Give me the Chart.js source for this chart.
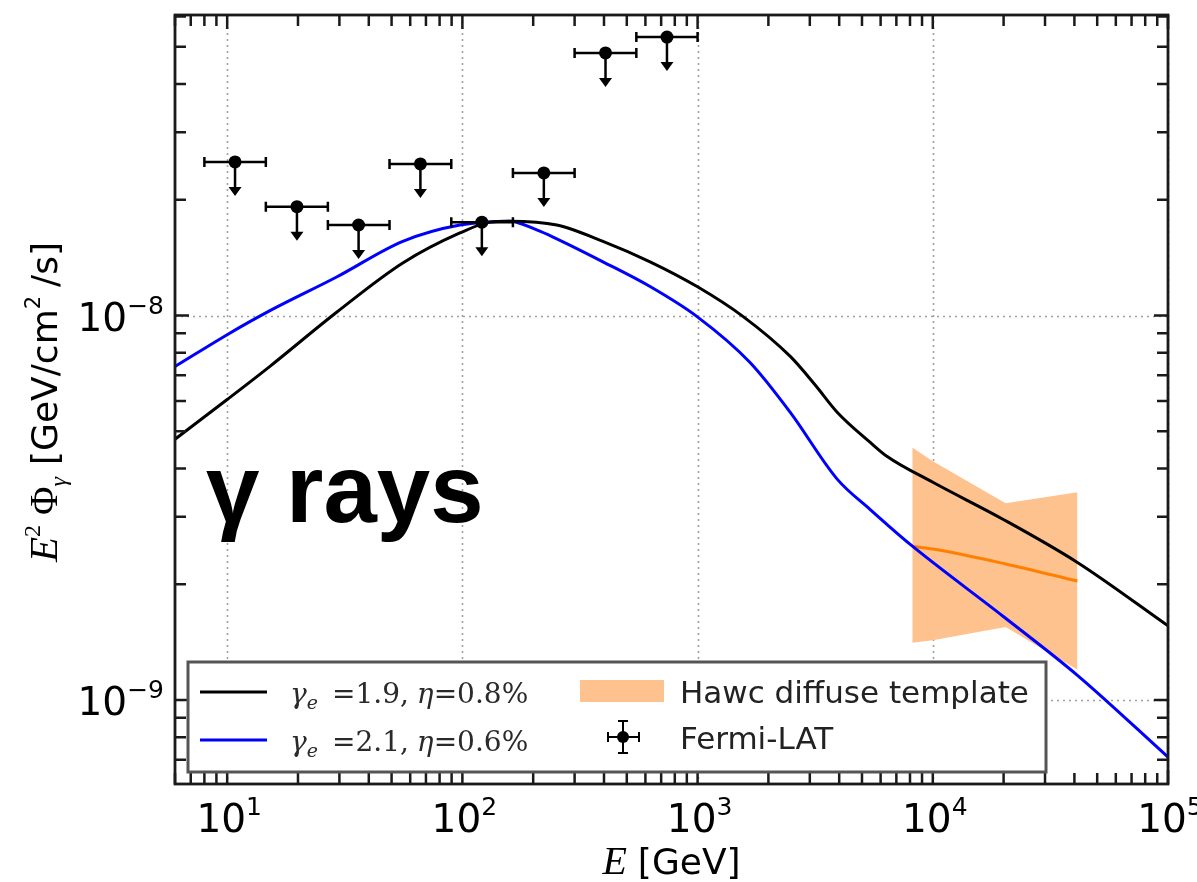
<!DOCTYPE html>
<html><head><meta charset="utf-8">
<script src="https://cdn.jsdelivr.net/npm/chart.js@4.4.1/dist/chart.umd.min.js"></script>
<style>html,body{margin:0;padding:0;background:#fff;overflow:hidden}canvas{display:block}</style>
</head><body>
<canvas id="chart" width="1197" height="882" style="width:1197px;height:882px"></canvas>
<script>
// ---- data ----
const blackEnergy = [6, 10, 15.2, 29.2, 55.8, 97.6, 131, 159, 252, 396, 628, 995, 1563, 2478, 3162, 3930, 5420, 6400, 10050, 19950, 41200, 100000];
const blackFlux   = [4.77e-9, 6.05e-9, 7.38e-9, 1.02e-8, 1.37e-8, 1.64e-8, 1.75e-8, 1.76e-8, 1.72e-8, 1.56e-8, 1.38e-8, 1.19e-8, 9.94e-9, 7.83e-9, 6.6e-9, 5.60e-9, 4.68e-9, 4.30e-9, 3.68e-9, 2.95e-9, 2.28e-9, 1.56e-9];

const blueEnergy = [6, 10, 15.2, 29.2, 55.8, 97.6, 159, 207, 243, 396, 628, 995, 1671, 2478, 3930, 5420, 8020, 19950, 41200, 100000];
const blueFlux   = [7.37e-9, 8.92e-9, 1.03e-8, 1.26e-8, 1.56e-8, 1.72e-8, 1.76e-8, 1.67e-8, 1.60e-8, 1.38e-8, 1.19e-8, 9.94e-9, 7.55e-9, 5.60e-9, 3.75e-9, 3.13e-9, 2.54e-9, 1.65e-9, 1.16e-9, 7.11e-10];

const hawcEnergy = [8180, 10000, 20400, 41200];
const hawcUpper  = [4.54e-9, 4.18e-9, 3.25e-9, 3.47e-9];
const hawcLower  = [1.41e-9, 1.43e-9, 1.55e-9, 1.20e-9];
const hawcCenter = [2.51e-9, 2.47e-9, 2.26e-9, 2.04e-9];

const fermiEnergy = [10.8, 19.8, 36.2, 66.3, 121, 222, 406, 741];
const fermiLow    = [8, 14.6, 26.8, 49, 89.7, 164, 300, 549];
const fermiHigh   = [14.6, 26.8, 49, 89.7, 164, 300, 549, 1000];
const fermiFlux   = [2.51e-8, 1.92e-8, 1.72e-8, 2.48e-8, 1.75e-8, 2.35e-8, 4.82e-8, 5.30e-8];

const xTickValues = [10, 100, 1000, 10000, 100000];
const xTickExp    = ['1', '2', '3', '4', '5'];
const yTickValues = [1e-9, 1e-8];
const yTickExp    = ['\u22129', '\u22128'];

const legendLabels = ['\u03B3e =1.9, \u03B7=0.8%', '\u03B3e =2.1, \u03B7=0.6%', 'Hawc diffuse template', 'Fermi-LAT'];

const pairs = (xs, ys) => xs.map((x, i) => ({x, y: ys[i]}));

// ---- drawing helpers ----
function runsWidth(ctx, runs) {
  let w = 0;
  for (const r of runs) { ctx.font = r.font; w += ctx.measureText(r.t).width + (r.gap || 0); }
  return w;
}
function drawRuns(ctx, runs, x, y) {
  let cx = x;
  for (const r of runs) {
    ctx.font = r.font; ctx.fillStyle = r.color || '#000';
    ctx.fillText(r.t, cx, y + (r.dy || 0));
    cx += ctx.measureText(r.t).width + (r.gap || 0);
  }
}

const decor = {
  id: 'decor',
  beforeDatasetsDraw(chart) {
    const {ctx, chartArea: a, scales: {x, y}} = chart;
    ctx.save();
    ctx.strokeStyle = '#a0a0a0'; ctx.lineWidth = 1.6; ctx.setLineDash([2, 4]);
    for (const v of xTickValues) {
      const px = Math.round(x.getPixelForValue(v)) + 0.5;
      ctx.beginPath(); ctx.moveTo(px, a.top); ctx.lineTo(px, a.bottom); ctx.stroke();
    }
    for (const v of yTickValues) {
      const py = Math.round(y.getPixelForValue(v)) + 0.5;
      ctx.beginPath(); ctx.moveTo(a.left, py); ctx.lineTo(a.right, py); ctx.stroke();
    }
    ctx.restore();
  },
  afterDatasetsDraw(chart) {
    const {ctx, chartArea: a, scales: {x, y}} = chart;
    ctx.save();
    // Fermi-LAT error bars and upper-limit arrows
    ctx.strokeStyle = '#000'; ctx.fillStyle = '#000'; ctx.lineWidth = 2.5;
    for (let i = 0; i < fermiEnergy.length; i++) {
      const px = x.getPixelForValue(fermiEnergy[i]);
      const py = y.getPixelForValue(fermiFlux[i]);
      const xl = x.getPixelForValue(fermiLow[i]);
      const xh = x.getPixelForValue(fermiHigh[i]);
      ctx.beginPath();
      ctx.moveTo(xl, py); ctx.lineTo(xh, py);
      ctx.moveTo(xl, py - 5); ctx.lineTo(xl, py + 5);
      ctx.moveTo(xh, py - 5); ctx.lineTo(xh, py + 5);
      ctx.moveTo(px, py); ctx.lineTo(px, py + 27);
      ctx.stroke();
      ctx.beginPath();
      ctx.moveTo(px - 6.5, py + 25); ctx.lineTo(px + 6.5, py + 25); ctx.lineTo(px, py + 34); ctx.closePath(); ctx.fill();
    }
    // frame
    ctx.lineWidth = 2.8; ctx.strokeStyle = '#1a1a1a';
    ctx.strokeRect(a.left, a.top, a.right - a.left, a.bottom - a.top);
    // ticks (inward, all four sides)
    ctx.lineWidth = 2.5;
    const majorLen = 14, minorLen = 11;
    for (let d = 0; d <= 5; d++) {
      for (let m = 1; m <= 9; m++) {
        const v = m * Math.pow(10, d);
        if (v < x.min || v > x.max) continue;
        const px = x.getPixelForValue(v);
        const L = m === 1 ? majorLen : minorLen;
        ctx.beginPath();
        ctx.moveTo(px, a.bottom); ctx.lineTo(px, a.bottom - L);
        ctx.moveTo(px, a.top); ctx.lineTo(px, a.top + L);
        ctx.stroke();
      }
    }
    for (let d = -10; d <= -8; d++) {
      for (let m = 1; m <= 9; m++) {
        const v = m * Math.pow(10, d);
        if (v < y.min || v > y.max) continue;
        const py = y.getPixelForValue(v);
        const L = m === 1 ? majorLen : minorLen;
        ctx.beginPath();
        ctx.moveTo(a.left, py); ctx.lineTo(a.left + L, py);
        ctx.moveTo(a.right, py); ctx.lineTo(a.right - L, py);
        ctx.stroke();
      }
    }
    // tick labels
    ctx.textBaseline = 'alphabetic'; ctx.textAlign = 'left';
    const mainF = '39px "DejaVu Sans"', supF = '25px "DejaVu Sans"';
    xTickValues.forEach((v, i) => {
      const runs = [{t: '10', font: mainF}, {t: xTickExp[i], font: supF, dy: -17}];
      const w = runsWidth(ctx, runs);
      drawRuns(ctx, runs, x.getPixelForValue(v) - w / 2 + 2, a.bottom + 48);
    });
    yTickValues.forEach((v, i) => {
      const runs = [{t: '10', font: mainF}, {t: yTickExp[i], font: supF, dy: -17}];
      const w = runsWidth(ctx, runs);
      drawRuns(ctx, runs, a.left - 11 - w, y.getPixelForValue(v) + 15);
    });
    // axis titles
    const xr = [{t: 'E', font: 'italic 40px "Liberation Serif"', gap: 11}, {t: '[GeV]', font: '36px "DejaVu Sans"'}];
    const xw = runsWidth(ctx, xr);
    drawRuns(ctx, xr, (a.left + a.right) / 2 - xw / 2, 874);
    ctx.save();
    ctx.translate(57, 402); ctx.rotate(-Math.PI / 2);
    const yr = [
      {t: 'E', font: 'italic 41px "Liberation Serif"'},
      {t: '2', font: '24px "Liberation Serif"', dy: -17, gap: 10},
      {t: '\u03A6', font: '39px "Liberation Serif"'},
      {t: '\u03B3', font: 'italic 24px "Liberation Serif"', dy: 9, gap: 12},
      {t: '[GeV/cm', font: '36px "DejaVu Sans"'},
      {t: '2', font: '21px "DejaVu Sans"', dy: -17, gap: 9},
      {t: '/s]', font: '36px "DejaVu Sans"'}
    ];
    const yw = runsWidth(ctx, yr);
    drawRuns(ctx, yr, -yw / 2, 0);
    ctx.restore();
    // annotation
    ctx.font = 'bold 96px "Liberation Sans"'; ctx.fillStyle = '#000';
    ctx.fillText('\u03B3 rays', 206, 522);
    // legend
    const lx0 = 188, ly0 = 662, lx1 = 1046, ly1 = 772;
    ctx.fillStyle = '#fff'; ctx.fillRect(lx0, ly0, lx1 - lx0, ly1 - ly0);
    ctx.lineWidth = 3; ctx.strokeStyle = '#555';
    ctx.strokeRect(lx0, ly0, lx1 - lx0, ly1 - ly0);
    const rows = [692, 740];
    ctx.lineWidth = 3;
    ctx.strokeStyle = '#000'; ctx.beginPath(); ctx.moveTo(200, rows[0]); ctx.lineTo(267, rows[0]); ctx.stroke();
    ctx.strokeStyle = '#0000ff'; ctx.beginPath(); ctx.moveTo(200, rows[1]); ctx.lineTo(267, rows[1]); ctx.stroke();
    const serif = '"DejaVu Serif"';
    [['1.9', '0.8%'], ['2.1', '0.6%']].forEach((p, i) => {
      const col = '#2a2a2a';
      drawRuns(ctx, [
        {t: '\u03B3', font: `italic 28px ${serif}`, color: col},
        {t: 'e', font: `italic 19px ${serif}`, dy: 6, gap: 14, color: col},
        {t: '=' + p[0] + ',', font: `28px ${serif}`, gap: 8, color: col},
        {t: '\u03B7', font: `italic 28px ${serif}`, color: col},
        {t: '=' + p[1], font: `28px ${serif}`, color: col}
      ], 290, rows[i] + 11);
    });
    ctx.fillStyle = '#fdc28e'; ctx.fillRect(580, 680, 84, 22);
    ctx.font = '31px "DejaVu Sans"'; ctx.fillStyle = '#222';
    ctx.fillText(legendLabels[2], 680, 703);
    ctx.fillText(legendLabels[3], 680, 749);
    // Fermi legend marker
    ctx.strokeStyle = '#000'; ctx.fillStyle = '#000'; ctx.lineWidth = 2;
    const mx = 623, my = 737;
    ctx.beginPath();
    ctx.moveTo(608, my); ctx.lineTo(639, my);
    ctx.moveTo(608, my - 5); ctx.lineTo(608, my + 5);
    ctx.moveTo(639, my - 5); ctx.lineTo(639, my + 5);
    ctx.moveTo(mx, 721); ctx.lineTo(mx, 753);
    ctx.moveTo(mx - 5, 721); ctx.lineTo(mx + 5, 721);
    ctx.moveTo(mx - 5, 753); ctx.lineTo(mx + 5, 753);
    ctx.stroke();
    ctx.beginPath(); ctx.arc(mx, my, 6, 0, Math.PI * 2); ctx.fill();
    ctx.restore();
  }
};

new Chart(document.getElementById('chart').getContext('2d'), {
  type: 'line',
  data: {
    datasets: [
      {label: legendLabels[3], type: 'scatter', data: pairs(fermiEnergy, fermiFlux), showLine: false,
       pointRadius: 6.5, pointBackgroundColor: '#000', pointBorderColor: '#000', pointBorderWidth: 0},
      {label: legendLabels[0], data: pairs(blackEnergy, blackFlux), borderColor: '#000', borderWidth: 3,
       pointRadius: 0, cubicInterpolationMode: 'monotone', fill: false},
      {label: legendLabels[1], data: pairs(blueEnergy, blueFlux), borderColor: '#0000ff', borderWidth: 3,
       pointRadius: 0, cubicInterpolationMode: 'monotone', fill: false},
      {label: 'Hawc center', data: pairs(hawcEnergy, hawcCenter), borderColor: '#ff8000', borderWidth: 3,
       pointRadius: 0, cubicInterpolationMode: 'monotone', fill: false},
      {label: legendLabels[2], data: pairs(hawcEnergy, hawcUpper), borderWidth: 0, borderColor: 'rgba(0,0,0,0)',
       pointRadius: 0, fill: '+1', backgroundColor: '#fdc28e', tension: 0},
      {label: 'Hawc lower', data: pairs(hawcEnergy, hawcLower), borderWidth: 0, borderColor: 'rgba(0,0,0,0)',
       pointRadius: 0, fill: false, tension: 0}
    ]
  },
  options: {
    responsive: false, animation: false, devicePixelRatio: 1,
    layout: {padding: {top: 15, right: 29, left: 0, bottom: 0}},
    plugins: {legend: {display: false}, tooltip: {enabled: false}},
    scales: {
      x: {type: 'logarithmic', min: 6, max: 1e5,
          ticks: {display: false}, grid: {display: false}, border: {display: false},
          afterFit(s) { s.height = 98; }},
      y: {type: 'logarithmic', min: 6.05e-10, max: 6.05e-8,
          ticks: {display: false}, grid: {display: false}, border: {display: false},
          afterFit(s) { s.width = 175; }}
    }
  },
  plugins: [decor]
});
</script>
</body></html>
